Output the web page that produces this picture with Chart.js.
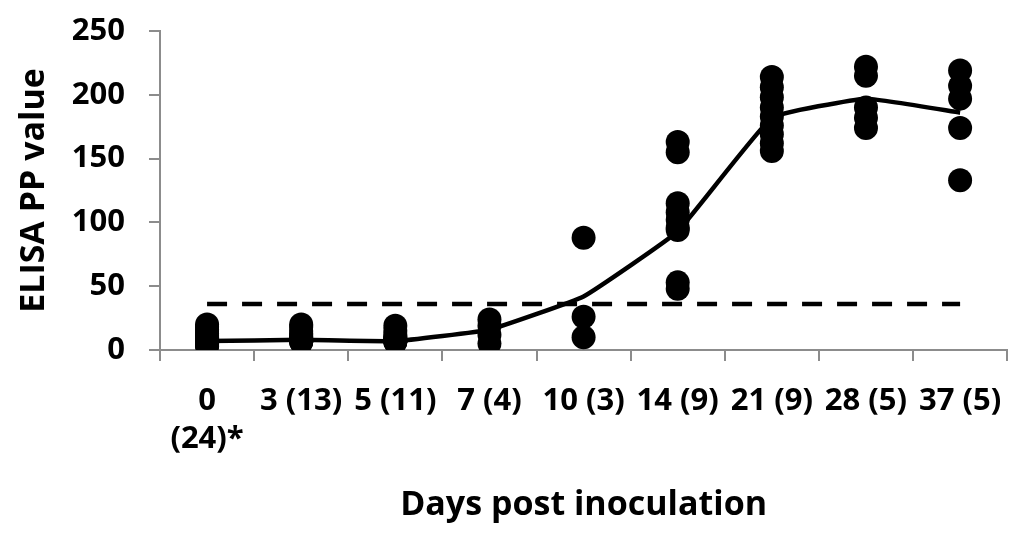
<!DOCTYPE html>
<html>
<head>
<meta charset="utf-8">
<script src="https://cdn.jsdelivr.net/npm/chart.js@4"></script>
<style>
  html, body { margin: 0; padding: 0; background: #fff; }
  .chart { width: 1024px; height: 534px; }
</style>
</head>
<body>
<div class="chart"><canvas id="c"></canvas></div>
<script>
// days post inoculation (category keys) and the label shown under each
const days = ['0', '3', '5', '7', '10', '14', '21', '28', '37'];
const tickLabels = [['0', '(24)*'], '3 (13)', '5 (11)', '7 (4)', '10 (3)', '14 (9)', '21 (9)', '28 (5)', '37 (5)'];

// individual animal values per day
const day0 = [3, 4, 4, 5, 5, 6, 6, 6, 7, 7, 7, 8, 8, 8, 9, 9, 10, 11, 12, 13, 15, 16, 18, 20];
const day3 = [6, 6, 7, 7, 8, 8, 9, 10, 11, 13, 15, 18, 20];
const day5 = [6, 6, 7, 7, 8, 8, 9, 10, 12, 15, 19];
const day7 = [5, 12, 19, 24];
const day10 = [88, 26, 10];
const day14 = [163, 155, 115, 108, 102, 96, 94, 53, 48];
const day21 = [214, 206, 198, 190, 183, 176, 169, 162, 156];
const day28 = [222, 215, 190, 182, 174];
const day37 = [219, 207, 197, 174, 133];

// mean line and cut-off
const means = [7, 8, 7, 16, 42, 93, 182, 197, 186];
const cutoff = 36;

const perDay = [day0, day3, day5, day7, day10, day14, day21, day28, day37];
var points = [];
perDay.forEach((vals, i) => {
  vals.forEach(v => points.push({ x: days[i], y: v }));
});

const font = { family: 'Open Sans', weight: 'bold', size: 31 };
const titleFont = { family: 'Open Sans', weight: 'bold', size: 34 };
const axisGray = '#8c8c8c';

new Chart(document.getElementById('c'), {
  type: 'line',
  data: {
    labels: days,
    datasets: [
      {
        label: 'samples',
        data: points,
        showLine: false,
        pointRadius: 12,
        pointBorderWidth: 0,
        pointBackgroundColor: '#000',
        pointBorderColor: '#000',
        order: 1
      },
      {
        label: 'mean',
        data: means,
        borderColor: '#000',
        borderWidth: 4.5,
        tension: 0.1,
        pointRadius: 0,
        order: 0
      },
      {
        label: 'cutoff',
        data: days.map(() => cutoff),
        borderColor: '#000',
        borderWidth: 4.5,
        borderDash: [20, 15],
        borderCapStyle: 'butt',
        pointRadius: 0,
        order: 2
      }
    ]
  },
  options: {
    responsive: true,
    maintainAspectRatio: false,
    animation: false,
    layout: { padding: { top: 31, right: 14, bottom: 0, left: 0 } },
    plugins: { legend: { display: false }, tooltip: { enabled: false } },
    scales: {
      x: {
        offset: true,
        grid: { offset: true, drawOnChartArea: false, drawTicks: true, tickLength: 11, color: axisGray, lineWidth: 2 },
        border: { color: axisGray, width: 2 },
        ticks: {
          color: '#000',
          font: font,
          padding: 22,
          maxRotation: 0,
          autoSkip: false,
          callback: (v, i) => tickLabels[i]
        },
        title: { display: true, text: 'Days post inoculation', color: '#000', font: titleFont, padding: { top: 4, bottom: 8 } },
        afterFit: s => { s.height = 184; }
      },
      y: {
        min: 0,
        max: 250,
        grid: { drawOnChartArea: false, drawTicks: true, tickLength: 11, color: axisGray, lineWidth: 2 },
        border: { color: axisGray, width: 2 },
        ticks: { stepSize: 50, color: '#000', font: font, padding: 24 },
        title: { display: true, text: 'ELISA PP value', color: '#000', font: titleFont, padding: { top: 14, bottom: 0 } },
        afterFit: s => { s.width = 160; s.paddingTop = 0; s.paddingBottom = 0; }
      }
    }
  }
});
</script>
</body>
</html>
